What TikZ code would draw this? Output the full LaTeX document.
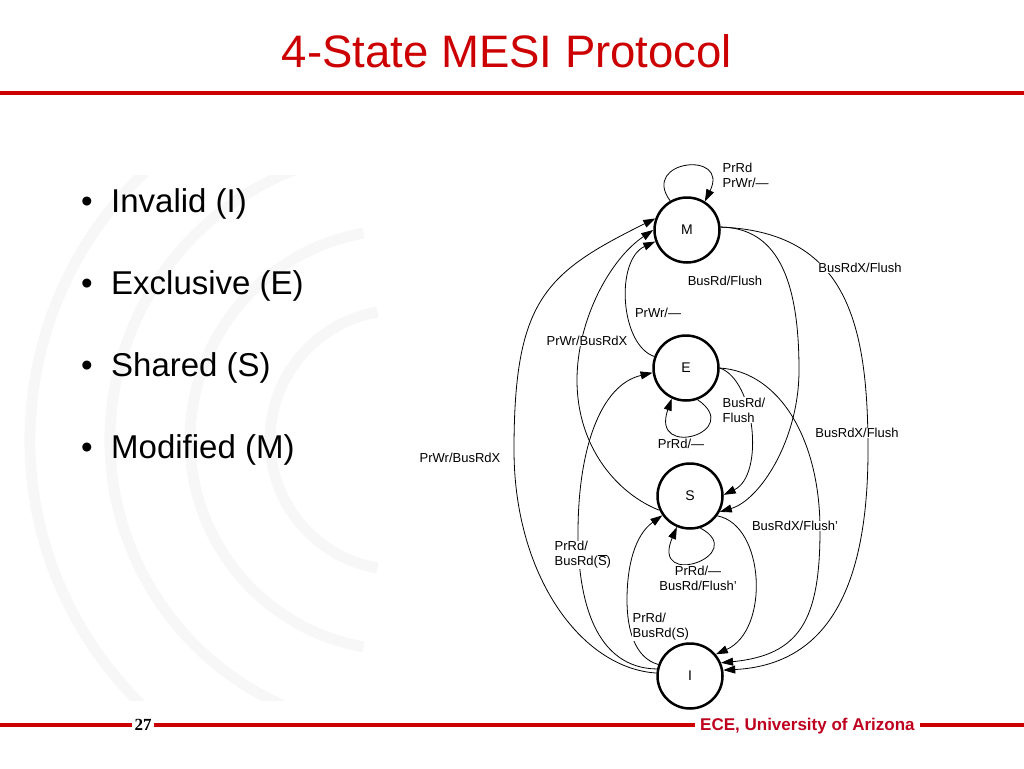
\documentclass[tikz,border=0pt]{standalone}
\usepackage{fontspec}
\setmainfont{Liberation Sans}
\newfontfamily\numfont{Liberation Serif}
\usetikzlibrary{arrows.meta}
\definecolor{slidered}{RGB}{204,0,0}
\definecolor{footred}{RGB}{190,0,30}

\begin{document}
\begin{tikzpicture}[x=1pt, y=-1pt, font=\fontsize{13}{15}\selectfont,
    state/.style={draw, circle, line width=2.5pt, minimum size=65pt, inner sep=0pt, font=\fontsize{14}{14}\selectfont},
    move/.style={-{Triangle[length=12pt,width=8pt]}, line width=0.8pt},
    tag/.style={fill=white, inner sep=0.5pt, align=left},
    bar/.style={slidered, line width=4pt}]
    \useasboundingbox (0,0) rectangle (1024,768);
    \begin{scope}
        \clip (0,175) rectangle (430,700);
        \foreach \r in {370,290,210,130} \draw[black!3, line width=11pt] (400,440) ++(100:\r) arc[start angle=100, end angle=260, radius=\r];
    \end{scope}
    \node[text=slidered, font=\fontsize{45.5}{50}\selectfont, anchor=base] (title) at (507,67) {4-State MESI Protocol};
    \draw[bar] (0,93) -- (1024,93);
    \foreach \word [count=\i] in {Invalid (I), Exclusive (E), Shared (S), Modified (M)} {
        \node[font=\fontsize{33}{36}\selectfont, anchor=base west, inner sep=0pt] (dot\i) at (81,130+82*\i) {•};
        \node[font=\fontsize{33}{36}\selectfont, anchor=base west, inner sep=0pt] (item\i) at (111,130+82*\i) {\word};
    }
    \node[state] (M) at (687,230) {M};
    \node[state] (E) at (686,368) {E};
    \node[state] (S) at (690,496) {S};
    \node[state] (I) at (690,676) {I};
    \draw[move] (M.120) .. controls (640,160) and (730,150) .. (M.58);
    \draw[move] (I.175) .. controls (580,668) and (514,574) .. (514,450) .. controls (514,300) and (545,273) .. (M.160);
    \draw[move] (S.205) .. controls (620,495) and (577,450) .. (577,380) .. controls (577,320) and (610,259) .. (M.180);
    \draw[move] (E.160) .. controls (620,345) and (615,260) .. (M.200);
    \draw[move] (M.5) .. controls (775,228) and (799,275) .. (799,370) .. controls (799,440) and (760,500) .. (S.332);
    \draw[move] (M.5) .. controls (845,232) and (868,320) .. (868,450) .. controls (868,600) and (820,665) .. (I.10);
    \draw[move] (E.290) .. controls (745,432) and (650,460) .. (E.245);
    \draw[move] (E.0) .. controls (755,380) and (765,475) .. (S.2);
    \draw[move] (E.0) .. controls (780,372) and (820,440) .. (820,530) .. controls (820,620) and (800,655) .. (I.23);
    \draw[move] (S.288) .. controls (750,555) and (650,590) .. (S.247);
    \draw[move] (S.324) .. controls (765,525) and (770,630) .. (I.40);
    \draw[move] (I.168) .. controls (595,668) and (578,600) .. (578,533) .. controls (578,450) and (600,385) .. (E.188);
    \draw[move] (I.160) .. controls (635,658) and (627,630) .. (627,600) .. controls (627,565) and (635,535) .. (S.215);
    \node[tag, anchor=west] (lM) at (722,175) {PrRd\\PrWr/—};
    \node[tag] (lMI) at (860,268) {BusRdX/Flush};
    \node[tag] (lMS) at (725,281) {BusRd/Flush};
    \node[tag] (lEM) at (658,313) {PrWr/—};
    \node[tag] (lSM) at (587,341) {PrWr/BusRdX};
    \node[tag, anchor=west] (lES) at (722,410) {BusRd/\\Flush};
    \node[tag] (lEI) at (857,433) {BusRdX/Flush};
    \node[tag] (lE) at (681,444) {PrRd/—};
    \node[tag] (lIM) at (460,458) {PrWr/BusRdX};
    \node[tag] (lSI) at (795,526) {BusRdX/Flush'};
    \node[tag, anchor=west] (lIE) at (554,555) {PrRd/\\BusRd($\overline{\mbox{S}}$)};
    \node[tag, align=center] (lS) at (698,578) {PrRd/—\\BusRd/Flush'};
    \node[tag, anchor=west] (lIS) at (632,627) {PrRd/\\BusRd(S)};
    \node[font=\numfont\bfseries\fontsize{17}{17}\selectfont, inner sep=2pt, anchor=base] (page) at (143,730) {27};
    \node[text=footred, font=\bfseries\fontsize{17}{17}\selectfont, inner sep=5pt, anchor=base west] (school) at (695,730) {ECE, University of Arizona};
    \draw[bar] (0,725) -- (page.west |- 0,725);
    \draw[bar] (page.east |- 0,725) -- (school.west |- 0,725);
    \draw[bar] (school.east |- 0,725) -- (1024,725);
\end{tikzpicture}
\end{document}
